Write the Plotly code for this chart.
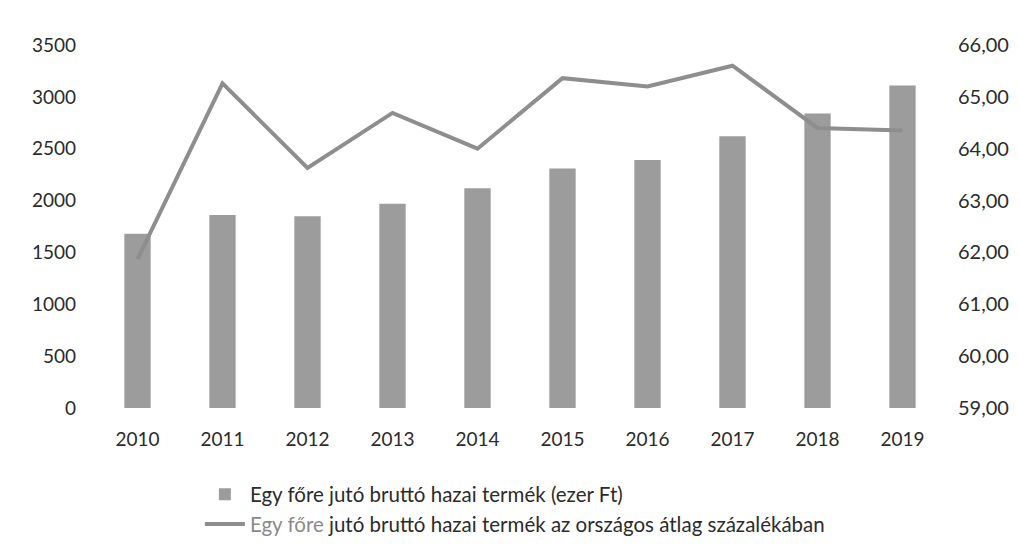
import plotly.graph_objects as go

years = ["2010", "2011", "2012", "2013", "2014", "2015", "2016", "2017", "2018", "2019"]
gdp_per_capita = [1680, 1860, 1850, 1970, 2120, 2310, 2390, 2620, 2840, 3110]
pct_of_national = [61.87, 65.26, 63.63, 64.69, 64.00, 65.36, 65.20, 65.60, 64.40, 64.35]

bar_name = "Egy főre jutó bruttó hazai termék (ezer Ft)"
line_name = '<span style="color:#8a8a8a">Egy főre</span> jutó bruttó hazai termék az országos átlag százalékában'

FONT = "Lato, 'Open Sans', sans-serif"

fig = go.Figure()
fig.add_trace(go.Bar(x=years, y=gdp_per_capita, name=bar_name, legendgroup="a",
                     marker=dict(color="#9c9c9c", line=dict(width=0)), yaxis="y"))
fig.add_trace(go.Scatter(x=years, y=pct_of_national, name=line_name, mode="lines", legendgroup="b",
                         line=dict(color="#8e8e8e", width=4), yaxis="y2"))

# the page body has an 8px default margin, so the figure is sized smaller to avoid scrollbars
fig.update_layout(
    width=1011, height=531,
    margin=dict(l=87, r=74, t=37, b=131, autoexpand=False),
    paper_bgcolor="white", plot_bgcolor="white",
    separators=", ",
    bargap=0.69,
    font=dict(family=FONT, size=19, color="#2b2b2b"),
    showlegend=True,
    legend=dict(orientation="v", x=0.1234, y=-0.183, xanchor="left", yanchor="top",
                font=dict(size=20.5, color="#2b2b2b"), tracegroupgap=0,
                itemwidth=40, bgcolor="rgba(0,0,0,0)"),
    xaxis=dict(showgrid=False, showline=False, ticks="", ticklabelstandoff=18, automargin=False),
    yaxis=dict(range=[0, 3500], dtick=500, tickformat="d", showgrid=False, automargin=False,
               zeroline=False, showline=False, ticks="", ticklabelstandoff=18),
    yaxis2=dict(range=[59, 66], dtick=1, tickformat=".2f", overlaying="y", side="right",
                automargin=False, tickfont=dict(size=20),
                showgrid=False, zeroline=False, showline=False, ticks="", ticklabelstandoff=12),
)

fig.write_html("out.html")
